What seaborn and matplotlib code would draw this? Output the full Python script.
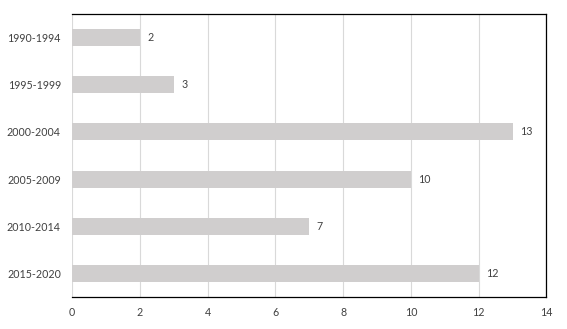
import matplotlib
matplotlib.use("Agg")
import matplotlib.pyplot as plt
import seaborn as sns
import pandas as pd

periods = ["1990-1994", "1995-1999", "2000-2004", "2005-2009", "2010-2014", "2015-2020"]
counts = [2, 3, 13, 10, 7, 12]
xticks = [0, 2, 4, 6, 8, 10, 12, 14]

sns.set_theme(style="white")
plt.rcParams['font.family'] = ['Lato', 'DejaVu Sans']

df = pd.DataFrame({"period": periods, "count": counts})

fig = plt.figure(figsize=(5.67, 3.29), dpi=100)
ax = fig.add_axes([0.127, 0.0973, 0.9638 - 0.127, 0.9574 - 0.0973])
sns.barplot(data=df, x="count", y="period", orient="h", color="#d0cece",
            width=0.36, saturation=1, linewidth=0, ax=ax, zorder=2)
ax.set_xlim(0, 14)
ax.set_ylim(5.5, -0.5)
ax.set_xticks(xticks)
ax.set_xticklabels([str(t) for t in xticks])
ax.grid(axis="x", color="#d9d9d9", linewidth=0.8, zorder=0)
ax.set_axisbelow(True)
ax.set_xlabel("")
ax.set_ylabel("")
for s in ["top", "right", "bottom"]:
    ax.spines[s].set_visible(True)
    ax.spines[s].set_color("black")
    ax.spines[s].set_linewidth(0.9)
ax.spines["left"].set_visible(False)
ax.tick_params(axis="both", length=0, labelsize=7.7, colors="#404040")
ax.tick_params(axis="x", pad=7.5)
ax.tick_params(axis="y", pad=8)
for i, v in enumerate(counts):
    ax.annotate(str(v), (v, i), xytext=(5.5, 0), textcoords="offset points",
                va="center", ha="left", fontsize=7.7, color="#404040")
fig.savefig("out.png", dpi=100)
